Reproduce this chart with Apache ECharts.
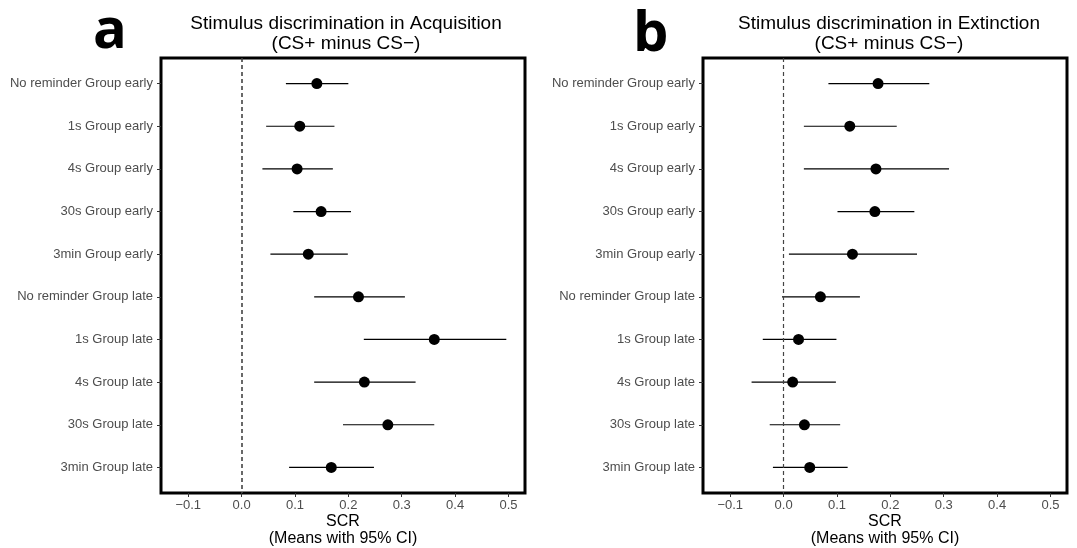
<!DOCTYPE html>
<html>
<head>
<meta charset="utf-8">
<script src="https://cdn.jsdelivr.net/npm/echarts@6/dist/echarts.min.js"></script>
<style>
html,body{margin:0;padding:0;background:#fff;}
#chart{width:1077px;height:548px;}
</style>
</head>
<body>
<div id="chart"></div>
<script>
const categories = ['No reminder Group early', '1s Group early', '4s Group early', '30s Group early', '3min Group early',
  'No reminder Group late', '1s Group late', '4s Group late', '30s Group late', '3min Group late'];
const acqMean = [0.141, 0.109, 0.104, 0.149, 0.125, 0.219, 0.361, 0.230, 0.274, 0.168];
const acqLow  = [0.083, 0.046, 0.039, 0.097, 0.054, 0.136, 0.229, 0.136, 0.190, 0.089];
const acqHigh = [0.200, 0.174, 0.171, 0.205, 0.199, 0.306, 0.496, 0.326, 0.361, 0.248];
const extMean = [0.177, 0.124, 0.173, 0.171, 0.129, 0.069, 0.028, 0.017, 0.039, 0.049];
const extLow  = [0.084, 0.038, 0.038, 0.101, 0.010, -0.003, -0.039, -0.060, -0.026, -0.020];
const extHigh = [0.273, 0.212, 0.310, 0.245, 0.250, 0.143, 0.099, 0.098, 0.106, 0.120];
const xTicks = [-0.1, 0, 0.1, 0.2, 0.3, 0.4, 0.5];
const rowIdx = categories.map((c, i) => i);

const FONT = 'Liberation Sans, Arial, sans-serif';
const chart = echarts.init(document.getElementById('chart'));

function xAxisDef(gi) {
  return {
    type: 'value', gridIndex: gi, min: -0.151, max: 0.531,
    axisLine: {show: false, onZero: false},
    splitLine: {show: false},
    axisTick: {show: true, length: 4, lineStyle: {color: '#333'}, customValues: xTicks},
    axisLabel: {
      customValues: xTicks, color: '#4d4d4d', fontSize: 13, fontFamily: FONT, margin: 6,
      formatter: v => (v < 0 ? '\u2212' : '') + Math.abs(v).toFixed(1)
    },
    name: 'SCR\n(Means with 95% CI)', nameLocation: 'middle', nameGap: 20, nameMoveOverlap: false,
    nameTextStyle: {color: '#000', fontSize: 16, fontFamily: FONT, lineHeight: 17}
  };
}
function yAxisDef(gi) {
  return {
    type: 'value', gridIndex: gi, min: -0.6, max: 9.6, inverse: true,
    axisLine: {show: false, onZero: false},
    splitLine: {show: false},
    axisTick: {show: true, length: 4, lineStyle: {color: '#333'}, customValues: rowIdx},
    axisLabel: {
      customValues: rowIdx, color: '#4d4d4d', fontSize: 13, fontFamily: FONT, margin: 8,
      formatter: v => categories[Math.round(v)]
    }
  };
}
function errSeries(gi, lo, hi) {
  return {
    type: 'custom', xAxisIndex: gi, yAxisIndex: gi, z: 3,
    data: lo.map((l, i) => [l, hi[i], i]),
    encode: {x: [0, 1], y: 2},
    renderItem: (params, api) => {
      const a = api.coord([api.value(0), api.value(2)]);
      const b = api.coord([api.value(1), api.value(2)]);
      return {type: 'line', shape: {x1: a[0], y1: a[1], x2: b[0], y2: b[1]},
        style: {stroke: '#000', lineWidth: 1.2}};
    }
  };
}
function pointSeries(gi, mean, dashW) {
  return {
    type: 'scatter', xAxisIndex: gi, yAxisIndex: gi, z: 4,
    data: mean.map((m, i) => [m, i]),
    symbolSize: 11, itemStyle: {color: '#000', opacity: 1},
    markLine: {
      silent: true, symbol: 'none', animation: false,
      label: {show: false},
      lineStyle: {type: [4, 3], color: '#444', width: dashW},
      data: [{xAxis: 0}]
    }
  };
}

const titleStyle = {fontSize: 19, fontWeight: 'normal', color: '#000', fontFamily: FONT, lineHeight: 20};
const letterStyle = {fontSize: 56, fontWeight: 'bold', color: '#000', fontFamily: 'Open Sans, DejaVu Sans, sans-serif'};

chart.setOption({
  animation: false,
  title: [
    {text: 'Stimulus discrimination in Acquisition\n(CS+ minus CS\u2212)', left: 341, top: 9, textAlign: 'center', textStyle: titleStyle},
    {text: 'Stimulus discrimination in Extinction\n(CS+ minus CS\u2212)', left: 884, top: 9, textAlign: 'center', textStyle: titleStyle},
    {text: 'a', left: 88, top: -1, textStyle: letterStyle},
    {text: 'b', left: 628, top: 2, textStyle: letterStyle}
  ],
  grid: [
    {left: 161, top: 58, width: 364, height: 435, show: true, borderColor: '#000', borderWidth: 3, backgroundColor: '#fff', outerBoundsMode: 'none'},
    {left: 703, top: 58, width: 364, height: 435, show: true, borderColor: '#000', borderWidth: 3, backgroundColor: '#fff', outerBoundsMode: 'none'}
  ],
  xAxis: [xAxisDef(0), xAxisDef(1)],
  yAxis: [yAxisDef(0), yAxisDef(1)],
  series: [
    errSeries(0, acqLow, acqHigh), pointSeries(0, acqMean, 1.6),
    errSeries(1, extLow, extHigh), pointSeries(1, extMean, 1.2)
  ]
});
</script>
</body>
</html>
